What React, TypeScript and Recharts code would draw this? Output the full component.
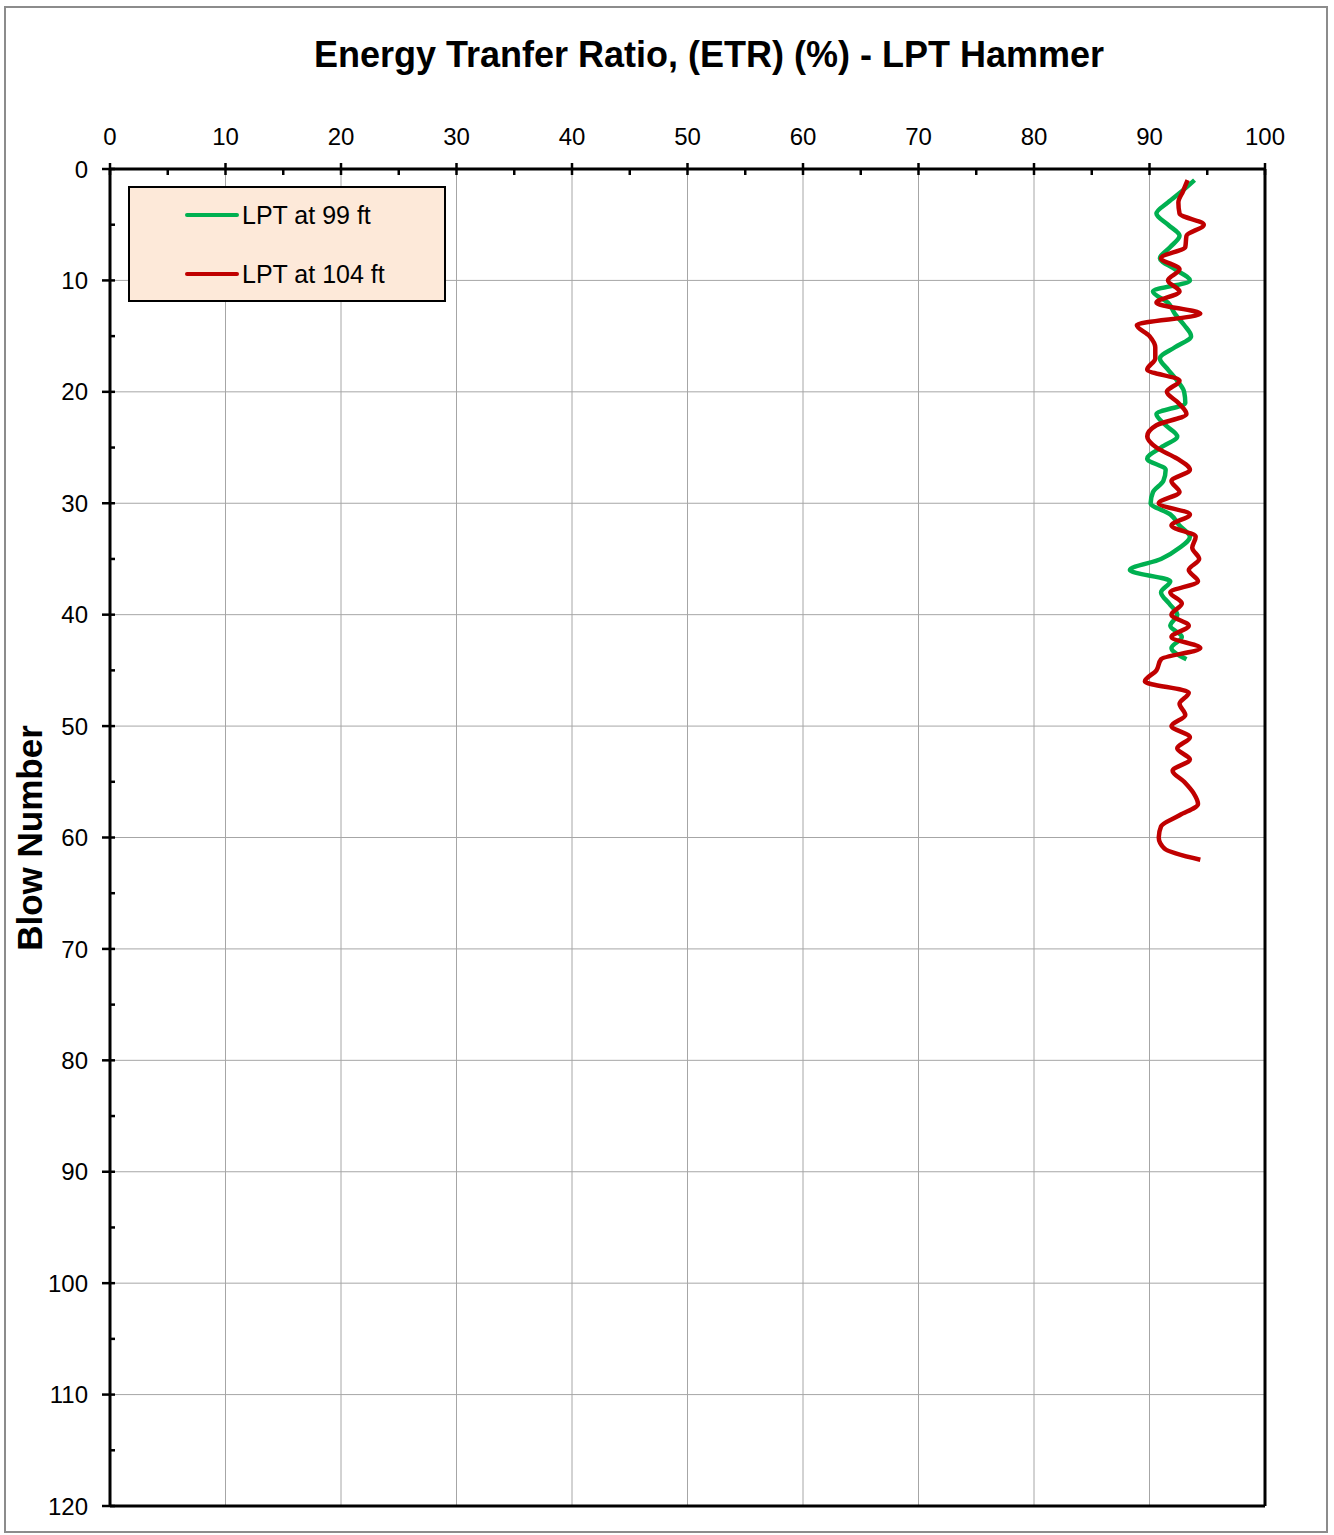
import React from 'react';
import { LineChart, Line, XAxis, YAxis, CartesianGrid, ReferenceLine } from 'recharts';

const blows99 = [1,2,3,4,5,6,7,8,9,10,11,12,13,14,15,16,17,18,19,20,21,22,23,24,25,26,27,28,29,30,31,32,33,34,35,36,37,38,39,40,41,42,43,44];
const etr99 = [93.9,92.8,91.6,90.6,91.6,92.6,91.8,90.9,92.2,93.5,90.3,91.6,92.2,93.0,93.6,92.2,90.9,91.6,92.4,93.0,93.1,90.6,91.4,92.4,91.0,89.8,91.4,91.2,90.3,90.1,91.8,92.6,93.5,92.6,91.0,88.3,91.8,91.0,91.7,92.4,91.8,92.8,91.9,93.2];

const blows104 = [1,2,3,4,5,6,7,8,9,10,11,12,13,14,15,16,17,18,19,20,21,22,23,24,25,26,27,28,29,30,31,32,33,34,35,36,37,38,39,40,41,42,43,44,45,46,47,48,49,50,51,52,53,54,55,56,57,58,59,60,61,62];
const etr104 = [93.3,92.9,92.5,92.6,94.7,93.2,93.1,91.0,92.6,91.6,92.6,90.6,94.4,88.9,90.0,90.5,90.5,89.8,92.6,91.5,92.5,93.2,90.6,89.8,90.6,92.4,93.5,91.9,92.6,90.8,93.5,91.9,94.0,93.7,94.3,93.4,94.2,91.8,92.8,91.9,93.4,91.9,94.4,91.0,90.6,89.6,93.4,92.6,93.1,91.9,93.5,92.4,93.5,92.0,93.0,93.8,94.2,92.6,91.0,90.8,91.3,94.4];

const xTicks = [0,5,10,15,20,25,30,35,40,45,50,55,60,65,70,75,80,85,90,95,100];
const yTicks = [0,5,10,15,20,25,30,35,40,45,50,55,60,65,70,75,80,85,90,95,100,105,110,115,120];
const xGridValues = [10,20,30,40,50,60,70,80,90];
const yGridValues = [10,20,30,40,50,60,70,80,90,100,110];

const seriesNames = ['LPT at 99 ft', 'LPT at 104 ft'];
const seriesColors = ['#00B050', '#C00000'];
const title = 'Energy Tranfer Ratio, (ETR) (%) - LPT Hammer';
const yLabel = 'Blow Number';

const data99 = blows99.map((b, i) => ({ blow: b, etr: etr99[i] }));
const data104 = blows104.map((b, i) => ({ blow: b, etr: etr104[i] }));

const FONT = '"Liberation Sans", Arial, sans-serif';
const X_TICK_SIZE = 6;
const X_TICK_MARGIN = 18;
const Y_TICK_SIZE = 6;
const Y_TICK_MARGIN = 16;

function XTick(props: any) {
  const { x, y, payload } = props;
  const axisY = y + X_TICK_SIZE + X_TICK_MARGIN;
  const major = payload.value % 10 === 0;
  return (
    <g>
      <line x1={x} x2={x} y1={major ? axisY - 6 : axisY} y2={axisY + 6} stroke="#000" strokeWidth={2.5} />
      {major && (
        <text x={x} y={y} textAnchor="middle" fontSize={24} fontFamily={FONT} fill="#000">
          {payload.value}
        </text>
      )}
    </g>
  );
}

function YTick(props: any) {
  const { x, y, payload } = props;
  const axisX = x + Y_TICK_SIZE + Y_TICK_MARGIN;
  const major = payload.value % 10 === 0;
  return (
    <g>
      <line x1={major ? axisX - 8 : axisX} x2={axisX + 5} y1={y} y2={y} stroke="#000" strokeWidth={2.5} />
      {major && (
        <text x={x} y={y} dy="0.36em" textAnchor="end" fontSize={24} fontFamily={FONT} fill="#000">
          {payload.value}
        </text>
      )}
    </g>
  );
}

export default function App() {
  return (
    <div style={{ position: 'absolute', left: 0, top: 0, width: 1334, height: 1535, background: '#fff', fontFamily: FONT }}>
      <div style={{ position: 'absolute', left: 4, top: 6, width: 1324, height: 1527, border: '2px solid #8c8c8c', boxSizing: 'border-box' }} />
      <div style={{ position: 'absolute', left: 209, width: 1000, top: 35, height: 40, lineHeight: '40px', textAlign: 'center', fontSize: 36, fontWeight: 'bold', color: '#000' }}>
        {title}
      </div>
      <div style={{ position: 'absolute', left: -120, top: 818, width: 300, height: 40, lineHeight: '40px', textAlign: 'center', fontSize: 35, fontWeight: 'bold', transform: 'rotate(-90deg)', color: '#000' }}>
        {yLabel}
      </div>
      <div style={{ position: 'absolute', left: 0, top: 0 }}>
        <LineChart width={1334} height={1535} layout="vertical" margin={{ top: 109, right: 69, bottom: 29, left: 30 }}>
          <CartesianGrid stroke="#a6a6a6" strokeWidth={1} verticalValues={xGridValues} horizontalValues={yGridValues} />
          <XAxis
            type="number"
            orientation="top"
            domain={[0, 100]}
            ticks={xTicks}
            interval={0}
            height={60}
            tickSize={X_TICK_SIZE}
            tickMargin={X_TICK_MARGIN}
            tickLine={false}
            axisLine={{ stroke: '#000', strokeWidth: 3 }}
            tick={<XTick />}
            allowDataOverflow
          />
          <YAxis
            type="number"
            dataKey="blow"
            domain={[0, 120]}
            ticks={yTicks}
            interval={0}
            width={80}
            tickSize={Y_TICK_SIZE}
            tickMargin={Y_TICK_MARGIN}
            tickLine={false}
            axisLine={{ stroke: '#000', strokeWidth: 3 }}
            tick={<YTick />}
            allowDataOverflow
          />
          <ReferenceLine x={100} stroke="#000" strokeWidth={3} />
          <ReferenceLine y={120} stroke="#000" strokeWidth={3} />
          <Line data={data99} dataKey="etr" name={seriesNames[0]} type="monotone" stroke={seriesColors[0]} strokeWidth={4.5} dot={false} isAnimationActive={false} />
          <Line data={data104} dataKey="etr" name={seriesNames[1]} type="monotone" stroke={seriesColors[1]} strokeWidth={4.5} dot={false} isAnimationActive={false} />
        </LineChart>
      </div>
      <div style={{ position: 'absolute', left: 128, top: 186, width: 318, height: 116, border: '2px solid #000', background: '#FDE9D9', boxSizing: 'border-box' }}>
        {seriesNames.map((n, i) => (
          <div key={n} style={{ position: 'absolute', left: 55, top: (i === 0 ? 27 : 86) - 16, height: 32, display: 'flex', alignItems: 'center' }}>
            <svg width={54} height={8} style={{ display: 'block' }}>
              <line x1={2} x2={52} y1={4} y2={4} stroke={seriesColors[i]} strokeWidth={4} strokeLinecap="round" />
            </svg>
            <span style={{ fontSize: 25, color: '#000', whiteSpace: 'nowrap', marginLeft: 3 }}>{n}</span>
          </div>
        ))}
      </div>
    </div>
  );
}
